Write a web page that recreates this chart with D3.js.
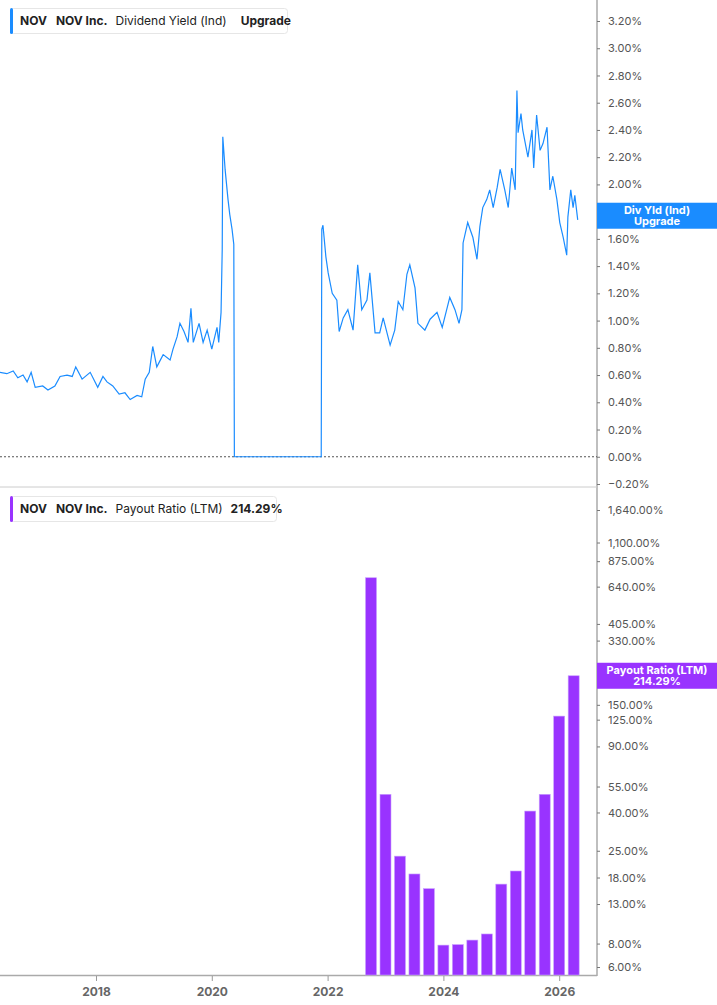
<!DOCTYPE html>
<html><head><meta charset="utf-8">
<script src="https://cdn.jsdelivr.net/npm/d3@7"></script>
<style>body{margin:0;background:#fff;font-family:Inter,"Noto Sans",sans-serif}</style>
</head><body><svg id="chart" width="717" height="1005"></svg>
<script>
// dividend yield (%), dates as decimal years
const yieldDates = [2016.34,2016.46,2016.57,2016.65,2016.74,2016.81,2016.88,2016.95,2017.08,2017.17,2017.29,2017.38,2017.50,2017.59,2017.65,2017.76,2017.90,2018.03,2018.12,2018.19,2018.29,2018.40,2018.50,2018.59,2018.71,2018.79,2018.85,2018.92,2018.98,2019.05,2019.16,2019.28,2019.33,2019.40,2019.45,2019.52,2019.59,2019.64,2019.68,2019.78,2019.85,2019.92,2020.00,2020.09,2020.12,2020.16,2020.18,2020.19,2020.23,2020.28,2020.31,2020.35,2020.38,2020.39,2021.89,2021.90,2021.92,2021.97,2022.01,2022.08,2022.16,2022.20,2022.27,2022.35,2022.44,2022.52,2022.59,2022.68,2022.73,2022.82,2022.90,2022.96,2023.08,2023.16,2023.22,2023.30,2023.37,2023.42,2023.51,2023.56,2023.68,2023.77,2023.89,2023.98,2024.11,2024.20,2024.27,2024.32,2024.34,2024.42,2024.51,2024.58,2024.63,2024.68,2024.75,2024.80,2024.86,2024.93,2024.98,2025.06,2025.12,2025.18,2025.24,2025.27,2025.29,2025.34,2025.37,2025.46,2025.53,2025.56,2025.61,2025.67,2025.72,2025.79,2025.84,2025.89,2025.96,2026.01,2026.07,2026.13,2026.15,2026.20,2026.24,2026.27,2026.32];
const yieldValues = [0.62,0.61,0.63,0.58,0.60,0.55,0.62,0.51,0.52,0.49,0.52,0.59,0.60,0.59,0.66,0.57,0.62,0.51,0.59,0.55,0.52,0.46,0.47,0.42,0.45,0.44,0.57,0.62,0.81,0.66,0.75,0.71,0.79,0.88,0.98,0.92,0.84,1.09,0.84,0.98,0.84,0.93,0.79,0.95,0.84,1.06,1.52,2.35,2.11,1.89,1.78,1.67,1.56,0,0,1.67,1.70,1.47,1.35,1.20,1.15,0.92,1.02,1.08,0.93,1.41,1.08,1.15,1.35,0.91,0.91,1.02,0.82,0.93,1.14,1.08,1.34,1.41,1.24,0.98,0.93,1.01,1.06,0.95,1.17,1.08,0.98,1.08,1.57,1.72,1.61,1.45,1.69,1.83,1.89,1.96,1.83,1.98,2.11,1.96,1.83,2.12,1.96,2.69,2.38,2.52,2.40,2.20,2.40,2.12,2.51,2.25,2.30,2.42,1.96,2.06,1.89,1.72,1.61,1.48,1.76,1.96,1.83,1.92,1.74];
// 1.80% sits under the value tag
const yieldTicks = [-0.2,0,0.2,0.4,0.6,0.8,1.0,1.2,1.4,1.6,2.0,2.2,2.4,2.6,2.8,3.0,3.2];

// payout ratio (%), quarterly
const payoutDates = [2022.75,2023.0,2023.25,2023.5,2023.75,2024.0,2024.25,2024.5,2024.75,2025.0,2025.25,2025.5,2025.75,2026.0,2026.25];
const payoutValues = [714,50,23.4,18.8,15.7,7.85,7.9,8.35,9.0,16.6,19.5,40.7,50,130.6,214.29];
const payoutTicks = [6,8,13,18,25,40,55,90,125,150,330,405,640,875,1100,1640];
const yearTicks = [2018,2020,2022,2024,2026];

const svg = d3.select("#chart");
const axisX = 597;
const blue = "#1a8cff", purple = "#9933ff";

const x = d3.scaleLinear().domain([2016.342, 2026.653]).range([0, axisX]);
const yTop = d3.scaleLinear().domain([-0.2, 3.2]).range([484, 21]);
const yBot = d3.scaleLog().domain([6, 1640]).range([967, 510]);

// frame lines
svg.append("line").attr("x1", axisX).attr("x2", axisX).attr("y1", 0).attr("y2", 976).attr("stroke", "#aaa").attr("stroke-width", 1.5);
svg.append("line").attr("x1", 0).attr("x2", axisX).attr("y1", 487).attr("y2", 487).attr("stroke", "#ccc");
svg.append("line").attr("x1", 0).attr("x2", axisX).attr("y1", 975.5).attr("y2", 975.5).attr("stroke", "#aaa").attr("stroke-width", 1.5);

// zero line
svg.append("line").attr("x1", 0).attr("x2", axisX).attr("y1", yTop(0)).attr("y2", yTop(0))
    .attr("stroke", "#555").attr("stroke-dasharray", "2,2");

// right axes
const fmt = d => d3.format(",.2f")(d) + "%";
const topAx = svg.append("g").attr("transform", `translate(${axisX},0)`)
    .call(d3.axisRight(yTop).tickValues(yieldTicks).tickSize(3).tickPadding(8).tickFormat(fmt));
const botAx = svg.append("g").attr("transform", `translate(${axisX},0)`)
    .call(d3.axisRight(yBot).tickValues(payoutTicks).tickSize(3).tickPadding(8).tickFormat(fmt));
[topAx, botAx].forEach(g => {
    g.select(".domain").remove();
    g.selectAll("line").attr("stroke", "#777");
    g.selectAll("text").attr("fill", "#555").style("font-size", "11px").style("font-family", "Inter, sans-serif");
});

// x axis
const xAx = svg.append("g").attr("transform", "translate(0,976)")
    .call(d3.axisBottom(x).tickValues(yearTicks).tickSize(5).tickPadding(6).tickFormat(d3.format("d")));
xAx.select(".domain").remove();
xAx.selectAll("line").attr("stroke", "#999");
xAx.selectAll("text").attr("fill", "#666").style("font-size", "12px").style("font-weight", "bold").style("font-family", "Inter, sans-serif");

// yield line
const pts = yieldDates.map((d, i) => [d, yieldValues[i]]);
svg.append("path").datum(pts)
    .attr("d", d3.line().x(d => x(d[0])).y(d => yTop(d[1])))
    .attr("fill", "none").attr("stroke", blue).attr("stroke-width", 1.2);

// payout bars
svg.append("g").selectAll("rect").data(payoutDates).join("rect")
    .attr("x", d => x(d) - 5.5).attr("width", 11)
    .attr("y", (d, i) => yBot(payoutValues[i]))
    .attr("height", (d, i) => 975 - yBot(payoutValues[i]))
    .attr("fill", purple).attr("stroke", "#c9a0ff").attr("stroke-width", 0.6);

// right side tags
function tag(yc, color, l1, l2) {
    svg.append("rect").attr("x", axisX).attr("y", yc - 13).attr("width", 717 - axisX).attr("height", 26).attr("fill", color);
    svg.append("text").attr("x", 657).attr("y", yc - 2).attr("text-anchor", "middle").attr("fill", "#fff")
        .style("font-size", "11px").style("font-weight", "bold")
        .selectAll("tspan").data([l1, l2]).join("tspan")
        .attr("x", 657).attr("dy", (d, i) => i ? 11 : 0).text(d => d);
}
tag(yTop(1.77), blue, "Div Yld (Ind)", "Upgrade");
tag(yBot(214.29), purple, "Payout Ratio (LTM)", "214.29%");

// legends
function legend(y0, w, color, parts) {
    svg.append("rect").attr("x", 10.5).attr("y", y0 + 0.5).attr("width", w).attr("height", 25).attr("rx", 3)
        .attr("fill", "#fff").attr("stroke", "#e6e6e6");
    svg.append("rect").attr("x", 10).attr("y", y0).attr("width", 3).attr("height", 26).attr("rx", 1.5).attr("fill", color);
    const t = svg.append("text").attr("x", 20).attr("y", y0 + 17).style("font-size", "12px").attr("fill", "#222");
    parts.forEach(p => t.append("tspan").attr("dx", p.dx).style("font-weight", p.b ? "bold" : "normal").text(p.t));
}
legend(8, 277, blue, [{t: "NOV", b: 1, dx: 0}, {t: "NOV Inc.", b: 1, dx: 9}, {t: "Dividend Yield (Ind)", dx: 8}, {t: "Upgrade", b: 1, dx: 14}]);
legend(496, 266, purple, [{t: "NOV", b: 1, dx: 0}, {t: "NOV Inc.", b: 1, dx: 9}, {t: "Payout Ratio (LTM)", dx: 8}, {t: "214.29%", b: 1, dx: 8}]);
</script></body></html>
